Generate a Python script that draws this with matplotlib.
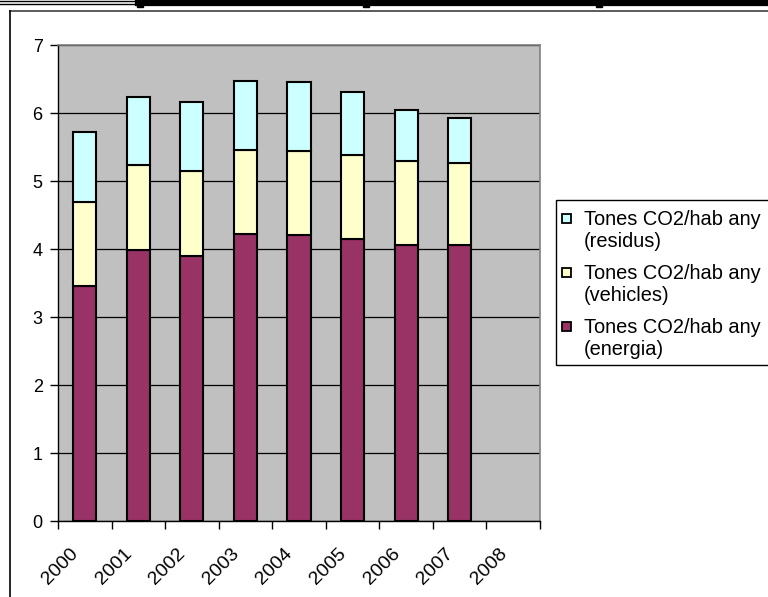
import matplotlib.pyplot as plt
import matplotlib.transforms as mtransforms
from matplotlib.lines import Line2D
from matplotlib.patches import Rectangle
import numpy as np

years = ['2000', '2001', '2002', '2003', '2004', '2005', '2006', '2007', '2008']
energia = [3.45, 3.99, 3.90, 4.22, 4.20, 4.14, 4.06, 4.06, 0]
vehicles = [1.24, 1.25, 1.24, 1.23, 1.24, 1.24, 1.24, 1.21, 0]
residus = [1.03, 0.99, 1.02, 1.02, 1.01, 0.93, 0.75, 0.65, 0]
labels = [('Tones CO2/hab any', '(residus)'),
          ('Tones CO2/hab any', '(vehicles)'),
          ('Tones CO2/hab any', '(energia)')]
colors = ['#CCFFFF', '#FFFFCC', '#993366']

W, H = 768, 597
plt.rcParams['font.family'] = ['Liberation Sans', 'DejaVu Sans']


def fx(px):
    return px / W


def fy(py):
    return 1 - py / H


fig = plt.figure(figsize=(W / 100, H / 100), dpi=100)
ax = fig.add_axes([fx(58), fy(521), fx(540) - fx(58), fy(45) - fy(521)])
ax.set_facecolor('#C0C0C0')

x = np.arange(len(years))
e = np.array(energia)
v = np.array(vehicles)
r = np.array(residus)
mask = e > 0
kw = dict(width=0.43, edgecolor='black', linewidth=1.5, zorder=3)
ax.bar(x[mask], e[mask], color=colors[2], **kw)
ax.bar(x[mask], v[mask], bottom=e[mask], color=colors[1], **kw)
ax.bar(x[mask], r[mask], bottom=(e + v)[mask], color=colors[0], **kw)

ax.set_xlim(-0.5, len(years) - 0.5)
ax.set_ylim(0, 7)
ax.set_yticks(range(0, 8))
ax.yaxis.grid(True, color='black', linewidth=0.9, zorder=1)
ax.set_axisbelow(True)

ax.set_xticks(np.arange(-0.5, len(years), 1.0))
ax.set_xticklabels([])
ax.set_xticks(x, minor=True)
ax.set_xticklabels(years, minor=True, rotation=45, ha='right',
                   rotation_mode='anchor', fontsize=14)
ax.tick_params(axis='x', which='minor', length=0, pad=17)
ax.tick_params(axis='x', which='major', direction='out', length=6, width=1)
ax.tick_params(axis='y', direction='out', length=6, width=1, labelsize=13, pad=5)
shift = mtransforms.ScaledTranslation(-15 / 100, 0, fig.dpi_scale_trans)
for lab in ax.get_xticklabels(minor=True):
    lab.set_transform(lab.get_transform() + shift)

for s in ['top', 'right']:
    ax.spines[s].set_color('#808080')
    ax.spines[s].set_linewidth(1.2)
for s in ['left', 'bottom']:
    ax.spines[s].set_color('black')
    ax.spines[s].set_linewidth(1)

# legend box, drawn by hand so the swatch sits on the first text line
fig.add_artist(Rectangle((fx(556), fy(365)), fx(230), fy(200) - fy(365),
                         facecolor='white', edgecolor='black', linewidth=1,
                         transform=fig.transFigure))
for i, (l1, l2) in enumerate(labels):
    base = 225 + 54 * i
    fig.add_artist(Rectangle((fx(562), fy(base - 2)), fx(9), fy(base - 11) - fy(base - 2),
                             facecolor=colors[i], edgecolor='black', linewidth=1.3,
                             transform=fig.transFigure))
    fig.text(fx(584), fy(base), l1, fontsize=14.4, va='baseline', ha='left')
    fig.text(fx(584), fy(base + 22), l2, fontsize=14.4, va='baseline', ha='left')

# page borders around the chart
fig.add_artist(Line2D([fx(138), fx(768)], [fy(3), fy(3)], color='black',
                      linewidth=4.5, transform=fig.transFigure))
fig.add_artist(Line2D([0, fx(138)], [fy(0.5), fy(0.5)], color='black',
                      linewidth=1, transform=fig.transFigure))
fig.add_artist(Line2D([0, fx(138)], [fy(4), fy(4)], color='black',
                      linewidth=1, transform=fig.transFigure))
for px in [140, 366, 599]:
    fig.add_artist(Rectangle((fx(px - 3), fy(7)), fx(6), fy(0) - fy(7),
                             color='black', transform=fig.transFigure))
fig.add_artist(Line2D([fx(10), fx(768)], [fy(11), fy(11)], color='#404040',
                      linewidth=1.2, transform=fig.transFigure))
fig.add_artist(Line2D([fx(10), fx(10)], [fy(11), 0], color='black',
                      linewidth=1.2, transform=fig.transFigure))

fig.savefig('out.png', dpi=100)
